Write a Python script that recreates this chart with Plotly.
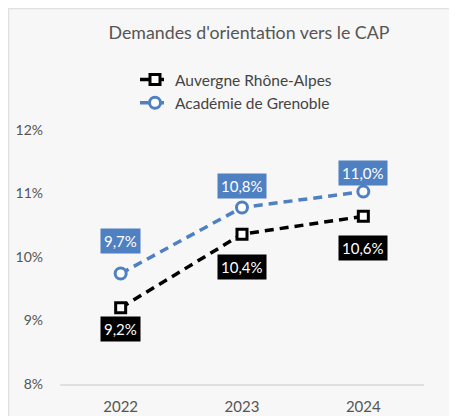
import plotly.graph_objects as go

years = ["2022", "2023", "2024"]
ara_values = [9.2, 10.36, 10.64]
gre_values = [9.74, 10.78, 11.03]
ara_labels = ["9,2%", "10,4%", "10,6%"]
gre_labels = ["9,7%", "10,8%", "11,0%"]
y_ticks = [8, 9, 10, 11, 12]
y_tick_labels = ["8%", "9%", "10%", "11%", "12%"]

BLUE = "#4f80c1"
FONT = "Lato"

# figure pixel geometry (page is offset by 8px body margin)
L, T, W, H = 52, 122, 457, 416
PW, PH = 364, 254

fig = go.Figure()
fig.add_trace(go.Scatter(
    x=years, y=ara_values, name="Auvergne Rhône-Alpes", mode="lines+markers",
    line=dict(color="black", width=3.5, dash="9px,6px"),
    marker=dict(symbol="square", size=10, color="white", line=dict(color="black", width=3)),
))
fig.add_trace(go.Scatter(
    x=years, y=gre_values, name="Académie de Grenoble", mode="lines+markers",
    line=dict(color=BLUE, width=3.5, dash="9px,6px"),
    marker=dict(symbol="circle", size=11, color="white", line=dict(color=BLUE, width=3)),
))

ara_shift = [-21, -33, -32]
gre_shift = [33, 21, 19]
for i, yr in enumerate(years):
    fig.add_annotation(x=i, y=ara_values[i], xref="x", yref="y", text=ara_labels[i],
                       showarrow=False, yshift=ara_shift[i], bgcolor="black", borderpad=3,
                       font=dict(color="white", size=15, family=FONT))
    fig.add_annotation(x=i, y=gre_values[i], xref="x", yref="y", text=gre_labels[i],
                       showarrow=False, yshift=gre_shift[i], bgcolor=BLUE, borderpad=3,
                       font=dict(color="white", size=15, family=FONT))

# container border (top and left edges)
bottom_px = T + PH
fig.add_shape(type="rect", xref="paper", yref="paper",
              x0=(0.5 - L) / PW, x1=(W + 20 - L) / PW,
              y0=(bottom_px - H - 20) / PH, y1=(bottom_px - 0.5) / PH,
              fillcolor="rgba(0,0,0,0)", line=dict(color="#e0e0e0", width=1.5), layer="below")

fig.update_layout(
    width=W, height=H,
    margin=dict(l=L, r=W - L - PW, t=T, b=H - T - PH, autoexpand=False),
    paper_bgcolor="#f7f7f7", plot_bgcolor="rgba(0,0,0,0)",
    font=dict(family=FONT, size=14, color="#555555"),
    title=dict(text="Demandes d'orientation vers le CAP", x=241 / W, xanchor="center",
               y=1 - 25 / H, yanchor="middle", font=dict(size=17.8, color="#555555")),
    showlegend=True,
    legend=dict(x=(127 - L) / PW, y=(bottom_px - 55) / PH, xanchor="left", yanchor="top",
                bgcolor="rgba(0,0,0,0)", font=dict(size=15.5, color="#444444")),
    xaxis=dict(type="category", range=[-0.5, 2.5], showgrid=False, showline=True,
               linecolor="#e0e0e0", linewidth=2, zeroline=False, ticks="",
               ticklabelstandoff=8, tickfont=dict(size=15)),
    yaxis=dict(range=[8, 12], tickvals=y_ticks, ticktext=y_tick_labels, showgrid=False,
               zeroline=False, showline=False, ticks="", ticklabelstandoff=16,
               tickfont=dict(size=14)),
)

fig.write_html("out.html")
